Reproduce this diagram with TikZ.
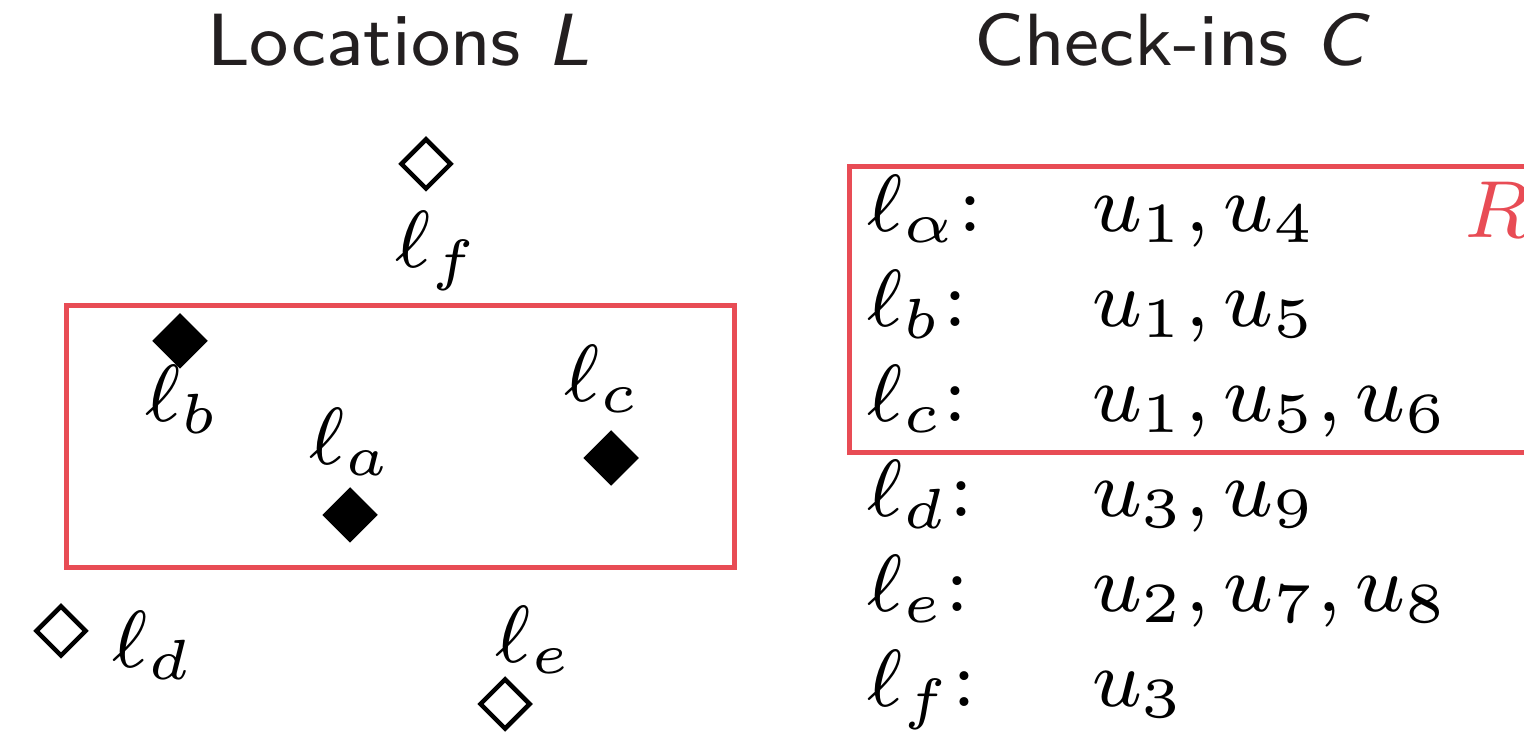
\documentclass[tikz,border=0pt]{standalone}
\usepackage{fix-cm}
\usetikzlibrary{shapes.geometric}
\definecolor{regionred}{RGB}{232,76,85}
\definecolor{titlegray}{RGB}{35,31,32}

\begin{document}
\begin{tikzpicture}[x=0.1pt, y=-0.1pt,
    title/.style={font=\fontsize{7.4}{9}\selectfont\sffamily, text=titlegray, anchor=base west, inner sep=0pt},
    lbl/.style={font=\fontsize{8.1}{9.7}\selectfont, anchor=base west, inner sep=0pt},
    loc/.style={diamond, draw, line width=0.45pt, inner sep=0pt, minimum width=5.1pt, minimum height=5.1pt},
    hitloc/.style={loc, fill=black},
    region/.style={draw=regionred, line width=0.5pt}]
  \clip (0,0) rectangle (1524,732);

  % Headers
  \node[title] (loctitle) at (205,66) {Locations \textsl{L}};
  \node[title] (chktitle) at (972,66) {Check-ins \textsl{C}};

  % Query region on the map
  \draw[region] (66,306) rectangle (734,568);

  % Locations inside the region
  \node[hitloc] (lb) at (180,341) {};
  \node[hitloc] (la) at (350,515) {};
  \node[hitloc] (lc) at (611,458) {};
  \node[lbl] (lblb) at (143,422) {$\ell_b$};
  \node[lbl] (lbla) at (307,465) {$\ell_a$};
  \node[lbl] (lblc) at (562,402) {$\ell_c$};

  % Locations outside the region
  \node[loc] (lf) at (426,164) {};
  \node[loc] (ld) at (61,631) {};
  \node[loc] (le) at (505,704) {};
  \node[lbl] (lblf) at (393,268) {$\ell_f$};
  \node[lbl] (lbld) at (110,668) {$\ell_d$};
  \node[lbl] (lble) at (493,663) {$\ell_e$};

  % Check-in lists
  \draw[region] (849,167) rectangle (1600,453);
  \node[lbl, text=regionred] (rname) at (1462,238) {$R$};

  \node[lbl] (ka) at (865,232) {$\ell_\alpha$:};
  \node[lbl] (kb) at (865,327) {$\ell_b$:};
  \node[lbl] (kc) at (865,422) {$\ell_c$:};
  \node[lbl] (kd) at (865,517) {$\ell_d$:};
  \node[lbl] (ke) at (865,612) {$\ell_e$:};
  \node[lbl] (kf) at (865,707) {$\ell_f$:};

  \node[lbl] (ua) at (1090,232) {$u_1, u_4$};
  \node[lbl] (ub) at (1090,327) {$u_1, u_5$};
  \node[lbl] (uc) at (1090,422) {$u_1, u_5, u_6$};
  \node[lbl] (ud) at (1090,517) {$u_3, u_9$};
  \node[lbl] (ue) at (1090,612) {$u_2, u_7, u_8$};
  \node[lbl] (uf) at (1090,707) {$u_3$};

\end{tikzpicture}
\end{document}
